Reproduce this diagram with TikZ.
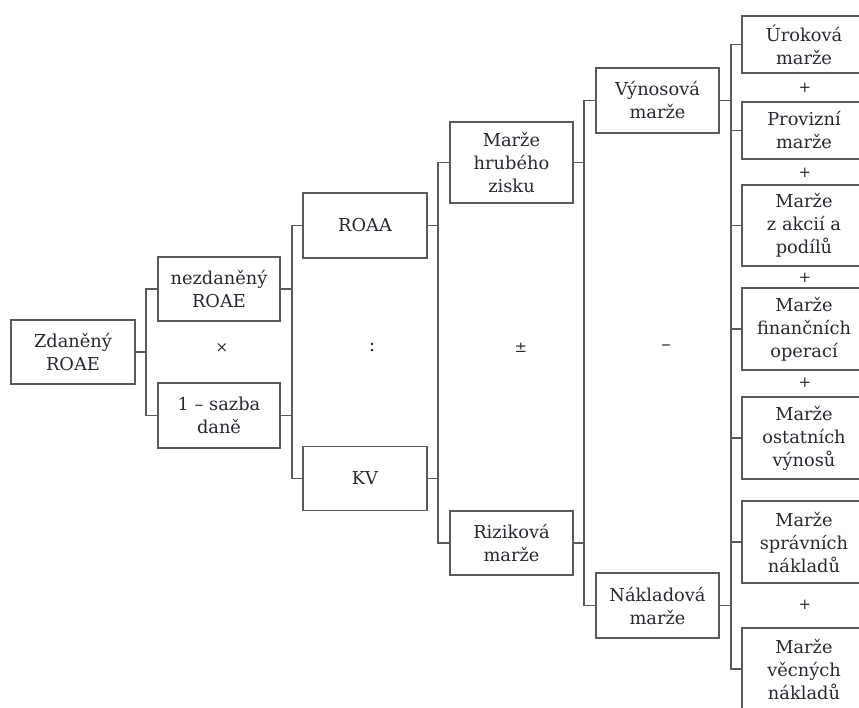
\documentclass[tikz,border=0pt]{standalone}
\usepackage{fontspec}
\setmainfont{DejaVu Serif}
\definecolor{txt}{HTML}{262A30}
\definecolor{ln}{HTML}{5A5A5A}
\begin{document}
\begin{tikzpicture}[x=1pt,y=-1pt,
  box/.style={draw=ln, line width=1.3pt, text=txt, align=center,
    font=\fontsize{17.8}{23}\selectfont, inner sep=0pt},
  conn/.style={draw=ln, line width=1.3pt},
  op/.style={text=txt, font=\fontsize{15}{16}\selectfont, inner sep=0pt},
  bigop/.style={text=txt, font=\fontsize{19}{20}\selectfont, inner sep=0pt}]
\useasboundingbox (0,0) rectangle (859,707);
\clip (0,0) rectangle (859,707);
% level 0-1
\node[box, minimum width=124pt, minimum height=64pt] (z) at (73,352) {Zdaněný\\ROAE};
\node[box, minimum width=122pt, minimum height=64pt] (n1) at (219,289) {nezdaněný\\ROAE};
\node[box, minimum width=122pt, minimum height=65pt] (n2) at (219,415.5) {1 – sazba\\daně};
% level 2
\node[box, minimum width=124pt, minimum height=65pt] (roaa) at (365,225.5) {ROAA};
\node[box, minimum width=124pt, minimum height=64pt] (kv) at (365,478.5) {KV};
% level 3
\node[box, minimum width=123pt, minimum height=81pt] (mhz) at (511.5,162.5) {Marže\\hrubého\\zisku};
\node[box, minimum width=123pt, minimum height=64pt] (riz) at (511.5,543) {Riziková\\marže};
% level 4
\node[box, minimum width=123pt, minimum height=65pt] (vyn) at (657.5,100.5) {Výnosová\\marže};
\node[box, minimum width=123pt, minimum height=65pt] (nak) at (657.5,605.5) {Nákladová\\marže};
% level 5
\node[box, minimum width=124pt, minimum height=57pt] (r1) at (804,44.5) {Úroková\\marže};
\node[box, minimum width=124pt, minimum height=57pt] (r2) at (804,130.5) {Provizní\\marže};
\node[box, minimum width=124pt, minimum height=81pt] (r3) at (804,225.5) {Marže\\z akcií a\\podílů};
\node[box, minimum width=124pt, minimum height=82pt] (r4) at (804,329) {Marže\\finančních\\operací};
\node[box, minimum width=124pt, minimum height=82pt] (r5) at (804,438) {Marže\\ostatních\\výnosů};
\node[box, minimum width=124pt, minimum height=82pt] (r6) at (804,542) {Marže\\správních\\nákladů};
\node[box, minimum width=124pt, minimum height=82pt] (r7) at (804,669) {Marže\\věcných\\nákladů};
% operators
\node[op] (o1) at (222,348) {×};
\node[bigop] (o2) at (372,348) {:};
\node[op] (o3) at (521,348) {±};
\node[bigop] (o4) at (666,348) {–};
\node[op] (p1) at (805,88) {+};
\node[op] (p2) at (805,173) {+};
\node[op] (p3) at (805,278) {+};
\node[op] (p4) at (805,383) {+};
\node[op] (p5) at (805,605) {+};
% bracket coordinates
\coordinate (b1) at (146,352);
\coordinate (b2) at (292,352);
\coordinate (b3) at (438,352);
\coordinate (b4) at (584,352);
\coordinate (b5) at (731,352);
% connectors
\draw[conn] (z.east) -- (b1);
\draw[conn] (n1.west) -| (b1) |- (n2.west);
\draw[conn] (n1.east) -- (n1.east -| b2);
\draw[conn] (n2.east) -- (n2.east -| b2);
\draw[conn] (roaa.west) -| (b2) |- (kv.west);
\draw[conn] (roaa.east) -- (roaa.east -| b3);
\draw[conn] (kv.east) -- (kv.east -| b3);
\draw[conn] (mhz.west) -| (b3) |- (riz.west);
\draw[conn] (mhz.east) -- (mhz.east -| b4);
\draw[conn] (riz.east) -- (riz.east -| b4);
\draw[conn] (vyn.west) -| (b4) |- (nak.west);
\draw[conn] (vyn.east) -- (vyn.east -| b5);
\draw[conn] (nak.east) -- (nak.east -| b5);
\draw[conn] (r1.west) -| (b5) |- (r7.west);
\foreach \r in {r2,r3,r4,r5,r6} \draw[conn] (\r.west) -- (\r.west -| b5);
\end{tikzpicture}
\end{document}
